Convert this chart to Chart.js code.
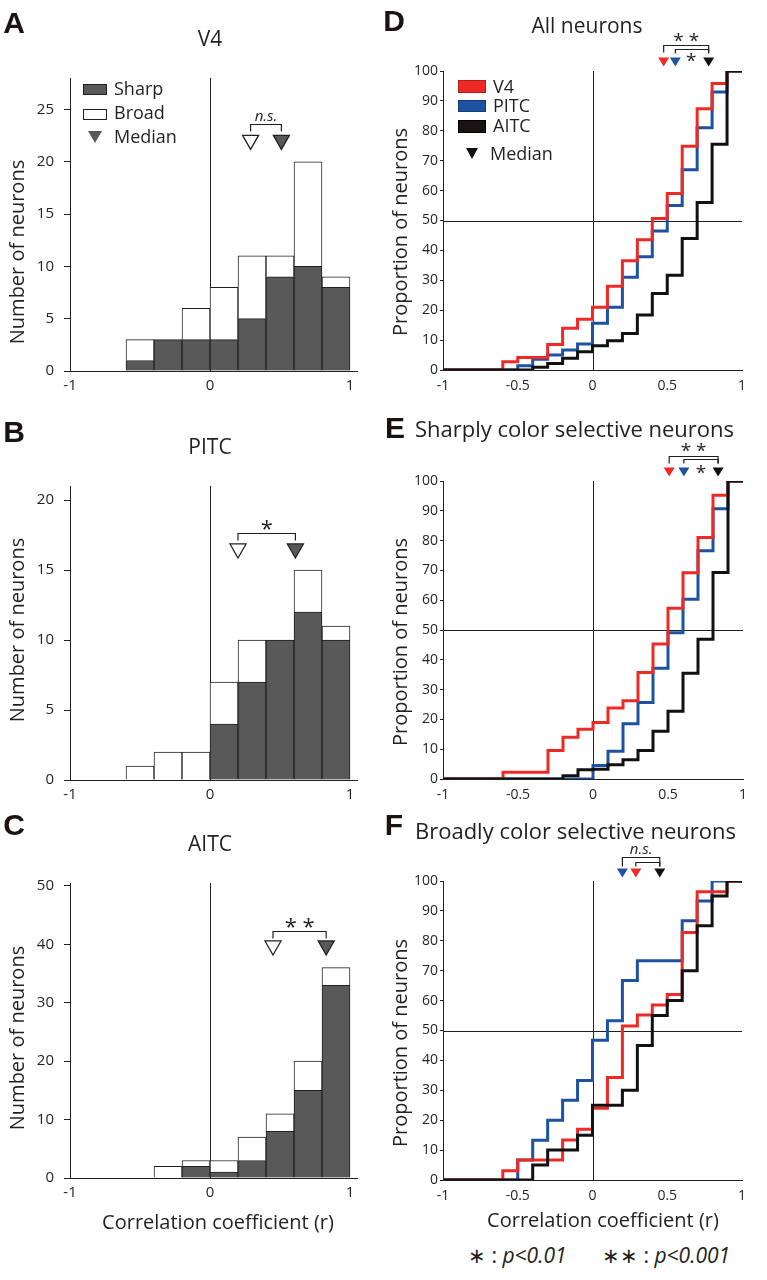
<!DOCTYPE html>
<html>
<head>
<meta charset="utf-8">
<title>Correlation of color tuning</title>
<script src="https://cdn.jsdelivr.net/npm/chart.js@4.4.1/dist/chart.umd.min.js"></script>
<style>
  html, body { margin: 0; padding: 0; background: #fff; }
  body { position: relative; width: 767px; height: 1280px; overflow: hidden;
         font-family: "Open Sans", "Noto Sans", sans-serif; color: #231f20; }
  canvas { position: absolute; }
  .t { position: absolute; white-space: nowrap; line-height: 1; z-index: 2; }
  .c { transform: translate(-50%, -50%); }
  .m { transform: translateY(-50%); }
  .yt { transform: translate(-50%, -50%) rotate(-90deg); font-size: 20px; }
  .xt { font-size: 20px; }
  .letter { font-family: "Liberation Sans", Arial, sans-serif; font-weight: bold; font-size: 30px; color: #1a1311; }
  .title { font-size: 21px; }
  .title2 { font-size: 22px; }
  .leg { font-size: 18px; }
  .sw { position: absolute; box-sizing: border-box; z-index: 2; }
  .tri { position: absolute; width: 0; height: 0; z-index: 2; }
  .foot { font-size: 21px; }
  .foot i { font-style: italic; }
</style>
</head>
<body>
<canvas id="cA"></canvas>
<canvas id="cB"></canvas>
<canvas id="cC"></canvas>
<canvas id="cD"></canvas>
<canvas id="cE"></canvas>
<canvas id="cF"></canvas>

<!-- panel letters and titles -->
<div class="t c letter" style="left:14px;top:23px">A</div>
<div class="t c letter" style="left:14px;top:432px">B</div>
<div class="t c letter" style="left:14px;top:825px">C</div>
<div class="t c letter" style="left:394px;top:21px">D</div>
<div class="t c letter" style="left:395px;top:428px">E</div>
<div class="t c letter" style="left:394px;top:825px">F</div>

<div class="t c title" style="left:210px;top:38px">V4</div>
<div class="t c title" style="left:210px;top:446px">PITC</div>
<div class="t c title" style="left:210px;top:843px">AITC</div>
<div class="t c title" style="left:587px;top:25px">All neurons</div>
<div class="t m title2" style="left:415px;top:428px">Sharply color selective neurons</div>
<div class="t m title2" style="left:415px;top:830px">Broadly color selective neurons</div>

<!-- axis titles -->
<div class="t yt" style="left:17px;top:252px">Number of neurons</div>
<div class="t yt" style="left:17px;top:630px">Number of neurons</div>
<div class="t yt" style="left:17px;top:1038px">Number of neurons</div>
<div class="t yt" style="left:400px;top:232px">Proportion of neurons</div>
<div class="t yt" style="left:400px;top:642px">Proportion of neurons</div>
<div class="t yt" style="left:400px;top:1043px">Proportion of neurons</div>
<div class="t c xt" style="left:218px;top:1222px">Correlation coefficient (r)</div>
<div class="t c xt" style="left:603px;top:1220px">Correlation coefficient (r)</div>

<!-- legend A -->
<div class="sw" style="left:83px;top:84px;width:24px;height:11px;background:#595959;border:1px solid #231f20"></div>
<div class="t m leg" style="left:114px;top:88px">Sharp</div>
<div class="sw" style="left:83px;top:109px;width:24px;height:11px;background:#fff;border:1px solid #231f20"></div>
<div class="t m leg" style="left:114px;top:112px">Broad</div>
<div class="tri" style="left:88px;top:131px;border-left:7px solid transparent;border-right:7px solid transparent;border-top:12px solid #595959"></div>
<div class="t m leg" style="left:114px;top:136px">Median</div>

<!-- legend D -->
<div class="sw" style="left:458px;top:80px;width:28px;height:13px;background:#ee2a26;border:1px solid #b31c1c"></div>
<div class="t m leg" style="left:493px;top:86px">V4</div>
<div class="sw" style="left:458px;top:100px;width:28px;height:12px;background:#1d52a3;border:1px solid #143c7a"></div>
<div class="t m leg" style="left:493px;top:105px">PITC</div>
<div class="sw" style="left:458px;top:120px;width:28px;height:13px;background:#1a1311;border:1px solid #000"></div>
<div class="t m leg" style="left:493px;top:125px">AITC</div>
<div class="tri" style="left:466px;top:148px;border-left:6px solid transparent;border-right:6px solid transparent;border-top:11px solid #111"></div>
<div class="t m leg" style="left:490px;top:153px">Median</div>

<!-- footnote -->
<div class="t m foot" style="left:468px;top:1255px">∗ : <i>p&lt;0.01</i></div>
<div class="t m foot" style="left:602px;top:1255px">∗∗ : <i>p&lt;0.001</i></div>

<script>
// ---------- data ----------
// histogram bins (width 0.2), centers
const binCenters = [-0.9, -0.7, -0.5, -0.3, -0.1, 0.1, 0.3, 0.5, 0.7, 0.9];
const v4Sharp   = [0, 0, 1, 3, 3, 3, 5, 9, 10, 8];
const v4Broad   = [0, 0, 2, 0, 3, 5, 6, 2, 10, 1];
const pitcSharp = [0, 0, 0, 0, 0, 4, 7, 10, 12, 10];
const pitcBroad = [0, 0, 1, 2, 2, 3, 3, 0, 3, 1];
const aitcSharp = [0, 0, 0, 0, 2, 1, 3, 8, 15, 33];
const aitcBroad = [0, 0, 0, 2, 1, 2, 4, 3, 5, 3];

// medians [broad, sharp]
const v4Medians   = [0.29, 0.51];
const pitcMedians = [0.2, 0.61];
const aitcMedians = [0.45, 0.83];

const histXTicks = [-1, 0, 1];
const v4YTicks   = [0, 5, 10, 15, 20, 25];
const pitcYTicks = [0, 5, 10, 15, 20];
const aitcYTicks = [0, 10, 20, 30, 40, 50];

// cumulative proportions (%), value held from each edge to the next
const cdfEdges = [-1, -0.9, -0.8, -0.7, -0.6, -0.5, -0.4, -0.3, -0.2, -0.1, 0,
                  0.1, 0.2, 0.3, 0.4, 0.5, 0.6, 0.7, 0.8, 0.9, 1];
const allV4     = [0, 0, 0, 0, 2.8, 4.2, 4.2, 8.5, 14, 17, 21, 28, 36.5, 43.6, 50.7, 59, 74.8, 87.4, 95.8, 100];
const allPITC   = [0, 0, 0, 0, 0, 1.4, 3.6, 5, 6.7, 8.7, 15.6, 21, 31, 37.9, 46.5, 55, 67, 81, 93, 100];
const allAITC   = [0, 0, 0, 0, 0, 0, 0.9, 2.2, 3.9, 6.1, 8.1, 9.8, 12.2, 18.4, 25.6, 31.7, 44, 56, 75.5, 100];
const sharpV4   = [0, 0, 0, 0, 2.3, 2.3, 2.3, 9.6, 14, 16.7, 19, 23.8, 26.3, 35.7, 45.3, 57.3, 69.2, 81, 95.2, 100];
const sharpPITC = [0, 0, 0, 0, 0, 0, 0, 0, 0, 0, 4.5, 9.3, 18.5, 25.7, 37.2, 49.1, 60.3, 76.6, 90.7, 100];
const sharpAITC = [0, 0, 0, 0, 0, 0, 0, 0, 1.1, 3.1, 3.3, 4.8, 6.5, 9.6, 16, 22.7, 35.5, 46.9, 69.3, 100];
const broadV4   = [0, 0, 0, 0, 3.1, 6.7, 6.7, 6.7, 13.4, 17, 24, 34.3, 51.5, 55.2, 58.5, 62, 82.8, 96.4, 96.4, 100];
const broadPITC = [0, 0, 0, 0, 0, 6.7, 13.3, 20, 26.7, 33.3, 46.7, 53.3, 66.7, 73.3, 73.3, 73.3, 86.7, 93.3, 100, 100];
const broadAITC = [0, 0, 0, 0, 0, 0, 5, 10, 10, 15, 25, 25, 30, 45, 55, 60, 70, 85, 95, 100];

// medians [V4, PITC, AITC]
const allMedians   = [0.476, 0.554, 0.777];
const sharpMedians = [0.508, 0.606, 0.834];
const broadMedians = [0.29, 0.2, 0.45];

const cdfXTicks = [-1, -0.5, 0, 0.5, 1];
const cdfYTicks = [0, 10, 20, 30, 40, 50, 60, 70, 80, 90, 100];

// ---------- styles ----------
const INK = '#231f20';
const SHARP = '#595959';
const RED = '#ee2a26';
const BLUE = '#1d52a3';
const BLACK = '#111111';
const AXIS_W = 50;
const AXIS_H = 24;

Chart.defaults.font.family = '"Open Sans", "Noto Sans", sans-serif';
Chart.defaults.color = INK;

function setBox(el, box) {
  el.width = box.w;
  el.height = box.h;
  el.style.left = box.x + 'px';
  el.style.top = box.y + 'px';
  el.style.width = box.w + 'px';
  el.style.height = box.h + 'px';
}

// padding so the plot area lands on the measured pixels
function layoutFor(box, area) {
  return {
    padding: {
      left: area.l - box.x - AXIS_W,
      top: area.t - box.y,
      right: box.x + box.w - area.r,
      bottom: box.y + box.h - area.b - AXIS_H
    }
  };
}
const fixX = s => { s.height = AXIS_H; s.paddingLeft = 0; s.paddingRight = 0; };
const fixY = s => { s.width = AXIS_W; s.paddingTop = 0; s.paddingBottom = 0; };
const ticksFrom = list => s => { s.ticks = list.map(v => ({ value: v })); };

// reference lines, median triangles, brackets and significance marks
const overlay = {
  id: 'overlay',
  beforeDatasetsDraw(chart, args, o) {
    const { ctx, chartArea: a, scales: { x, y } } = chart;
    ctx.save();
    ctx.strokeStyle = INK;
    ctx.lineWidth = 1;
    ctx.beginPath();
    (o.vLines || []).forEach(v => {
      const px = Math.round(x.getPixelForValue(v)) + 0.5;
      ctx.moveTo(px, a.top);
      ctx.lineTo(px, a.bottom);
    });
    (o.hLines || []).forEach(v => {
      const py = Math.round(y.getPixelForValue(v)) + 0.5;
      ctx.moveTo(a.left, py);
      ctx.lineTo(a.right, py);
    });
    ctx.stroke();
    ctx.restore();
  },
  afterDraw(chart, args, o) {
    const { ctx, chartArea: a, scales: { x, y } } = chart;
    const yPos = m => (m.yVal != null ? y.getPixelForValue(m.yVal) : a.top + m.dy);
    ctx.save();
    (o.brackets || []).forEach(b => {
      const x1 = x.getPixelForValue(b.x1), x2 = x.getPixelForValue(b.x2), yy = Math.round(yPos(b)) + 0.5;
      ctx.strokeStyle = INK;
      ctx.lineWidth = 1.2;
      ctx.beginPath();
      ctx.moveTo(x1, yy + b.leg);
      ctx.lineTo(x1, yy);
      ctx.lineTo(x2, yy);
      ctx.lineTo(x2, yy + b.leg);
      ctx.stroke();
    });
    (o.markers || []).forEach(m => {
      const cx = x.getPixelForValue(m.x), cy = yPos(m);
      ctx.beginPath();
      ctx.moveTo(cx - m.w / 2, cy - m.h / 2);
      ctx.lineTo(cx + m.w / 2, cy - m.h / 2);
      ctx.lineTo(cx, cy + m.h / 2);
      ctx.closePath();
      ctx.fillStyle = m.fill;
      ctx.fill();
      if (m.stroke) {
        ctx.lineWidth = 1.3;
        ctx.strokeStyle = m.stroke;
        ctx.stroke();
      }
    });
    (o.texts || []).forEach(t => {
      ctx.font = t.font;
      ctx.fillStyle = INK;
      ctx.textAlign = 'center';
      ctx.textBaseline = 'middle';
      ctx.fillText(t.text, x.getPixelForValue(t.x), yPos(t));
    });
    ctx.restore();
  }
};

function histChart(id, box, area, sharp, broad, yMax, yTicks, ann) {
  const el = document.getElementById(id);
  setBox(el, box);
  const bar = (label, vals, color) => ({
    label: label,
    data: binCenters.map((c, i) => ({ x: c, y: vals[i] })),
    backgroundColor: color,
    borderColor: INK,
    borderWidth: 1,
    grouped: false,
    barPercentage: 1,
    categoryPercentage: 1
  });
  return new Chart(el, {
    type: 'bar',
    data: { datasets: [bar('Sharp', sharp, SHARP), bar('Broad', broad, '#ffffff')] },
    options: {
      responsive: false,
      animation: false,
      events: [],
      layout: layoutFor(box, area),
      plugins: { legend: { display: false }, tooltip: { enabled: false }, overlay: ann },
      scales: {
        x: {
          type: 'linear', min: -1, max: 1.05, offset: false,
          grid: { display: false, drawTicks: false, offset: false },
          border: { color: INK, width: 1 },
          ticks: { font: { size: 15 }, color: INK, padding: 6, callback: v => String(v) },
          afterBuildTicks: ticksFrom(histXTicks),
          afterFit: fixX
        },
        y: {
          stacked: true, min: 0, max: yMax,
          grid: { drawOnChartArea: false, tickLength: 6, color: INK },
          border: { color: INK, width: 1 },
          ticks: { font: { size: 15 }, color: INK, padding: 10 },
          afterBuildTicks: ticksFrom(yTicks),
          afterFit: fixY
        }
      }
    },
    plugins: [overlay]
  });
}

function cdfChart(id, box, area, v4, pitc, aitc, ann) {
  const el = document.getElementById(id);
  setBox(el, box);
  const line = (label, vals, color) => ({
    label: label,
    data: cdfEdges.map((e, i) => ({ x: e, y: i < vals.length ? vals[i] : vals[vals.length - 1] })),
    stepped: true,
    borderColor: color,
    borderWidth: 3,
    pointRadius: 0,
    fill: false
  });
  return new Chart(el, {
    type: 'line',
    data: { datasets: [line('AITC', aitc, BLACK), line('V4', v4, RED), line('PITC', pitc, BLUE)] },
    options: {
      responsive: false,
      animation: false,
      events: [],
      layout: layoutFor(box, area),
      plugins: { legend: { display: false }, tooltip: { enabled: false }, overlay: ann },
      scales: {
        x: {
          type: 'linear', min: -1, max: 1,
          grid: { display: false, drawTicks: false },
          border: { color: INK, width: 1 },
          ticks: { font: { size: 14 }, color: INK, padding: 8, callback: v => String(v) },
          afterBuildTicks: ticksFrom(cdfXTicks),
          afterFit: fixX
        },
        y: {
          min: 0, max: 100,
          grid: { drawOnChartArea: false, tickLength: 3, color: INK },
          border: { color: INK, width: 1 },
          ticks: { font: { size: 14 }, color: INK, padding: 2 },
          afterBuildTicks: ticksFrom(cdfYTicks),
          afterFit: fixY
        }
      }
    },
    plugins: [overlay]
  });
}

const histMarks = (med, yTri, yBr, label, yLabel, font) => ({
  vLines: [0],
  markers: [
    { x: med[0], yVal: yTri, w: 16, h: 14, fill: '#ffffff', stroke: INK },
    { x: med[1], yVal: yTri, w: 16, h: 14, fill: SHARP, stroke: INK }
  ],
  brackets: [{ x1: med[0], x2: med[1], yVal: yBr, leg: 7 }],
  texts: [{ text: label, x: (med[0] + med[1]) / 2, yVal: yLabel, font: font }]
});

const cdfMarks = (med, tri, outer, inner, texts) => ({
  vLines: [0],
  hLines: [50],
  markers: [
    { x: med[0], dy: tri, w: 11, h: 9, fill: RED },
    { x: med[1], dy: tri, w: 11, h: 9, fill: BLUE },
    { x: med[2], dy: tri, w: 11, h: 9, fill: BLACK }
  ],
  brackets: [outer, inner],
  texts: texts
});

histChart('cA', { x: 0, y: 0, w: 380, h: 400 }, { l: 70, t: 78, r: 357, b: 371 },
  v4Sharp, v4Broad, 28, v4YTicks,
  histMarks(v4Medians, 21.85, 23.57, 'n.s.', 24.3, 'italic 15px "Open Sans"'));

histChart('cB', { x: 0, y: 400, w: 380, h: 410 }, { l: 70, t: 486, r: 357, b: 780 },
  pitcSharp, pitcBroad, 21, pitcYTicks,
  histMarks(pitcMedians, 16.36, 17.64, '*', 17.9, '22px "Open Sans"'));

histChart('cC', { x: 0, y: 810, w: 380, h: 420 }, { l: 70, t: 883, r: 357, b: 1178 },
  aitcSharp, aitcBroad, 50.5, aitcYTicks,
  histMarks(aitcMedians, 39.38, 42.29, '* *', 42.9, '22px "Open Sans"'));

cdfChart('cD', { x: 380, y: 0, w: 387, h: 400 }, { l: 443, t: 71, r: 742, b: 370 },
  allV4, allPITC, allAITC,
  cdfMarks(allMedians, -9,
    { x1: allMedians[0], x2: allMedians[2], dy: -26, leg: 7 },
    { x1: allMedians[1], x2: allMedians[2], dy: -22, leg: 4 },
    [{ text: '* *', x: (allMedians[0] + allMedians[2]) / 2, dy: -29, font: '19px "Open Sans"' },
     { text: '*', x: 0.66, dy: -9, font: '19px "Open Sans"' }]));

cdfChart('cE', { x: 380, y: 400, w: 387, h: 410 }, { l: 443, t: 481, r: 743, b: 779 },
  sharpV4, sharpPITC, sharpAITC,
  cdfMarks(sharpMedians, -9,
    { x1: sharpMedians[0], x2: sharpMedians[2], dy: -25, leg: 7 },
    { x1: sharpMedians[1], x2: sharpMedians[2], dy: -22, leg: 4 },
    [{ text: '* *', x: (sharpMedians[0] + sharpMedians[2]) / 2, dy: -29, font: '19px "Open Sans"' },
     { text: '*', x: 0.72, dy: -7, font: '19px "Open Sans"' }]));

cdfChart('cF', { x: 380, y: 810, w: 387, h: 420 }, { l: 443, t: 881, r: 742, b: 1180 },
  broadV4, broadPITC, broadAITC,
  cdfMarks(broadMedians, -8,
    { x1: broadMedians[1], x2: broadMedians[2], dy: -24, leg: 9 },
    { x1: broadMedians[0], x2: broadMedians[2], dy: -19, leg: 4 },
    [{ text: 'n.s.', x: (broadMedians[1] + broadMedians[2]) / 2, dy: -31, font: 'italic 15px "Open Sans"' }]));
</script>
</body>
</html>
